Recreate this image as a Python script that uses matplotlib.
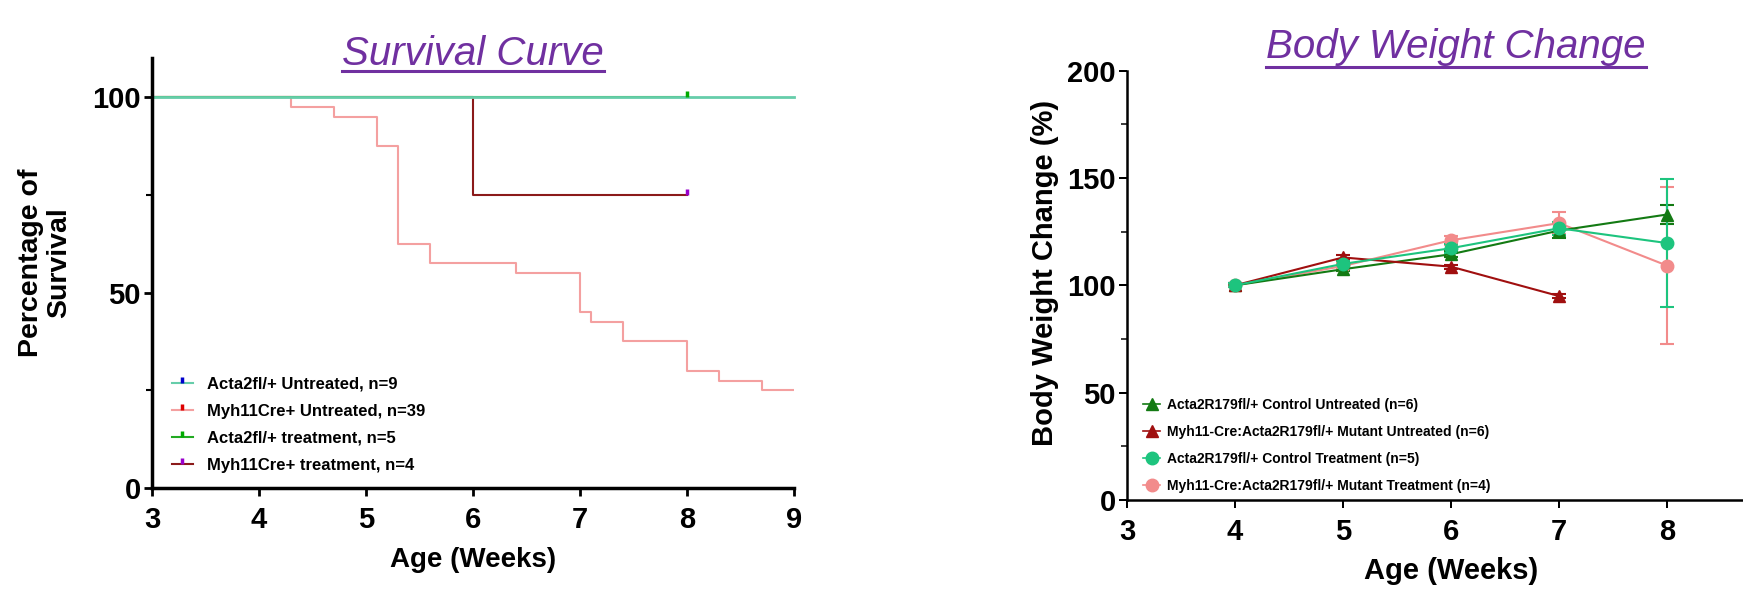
import numpy as np
import matplotlib
matplotlib.use('Agg')
import matplotlib.pyplot as plt
from matplotlib.lines import Line2D
from matplotlib.path import Path

plt.rcParams['font.family'] = ['Liberation Sans', 'DejaVu Sans']
plt.rcParams['font.weight'] = 'bold'

# ---- survival data (percent surviving, step changes) ----
weeks_ctrl_unt = [3, 9]
surv_ctrl_unt = [100, 100]
weeks_mut_unt = [3, 4.3, 4.7, 5.1, 5.3, 5.6, 6.4, 7.0, 7.1, 7.4, 8.0, 8.3, 8.7, 9]
surv_mut_unt = [100, 97.5, 95, 87.5, 62.5, 57.5, 55, 45, 42.5, 37.5, 30, 27.5, 25, 25]
weeks_ctrl_trt = [3, 8]
surv_ctrl_trt = [100, 100]
weeks_mut_trt = [3, 6, 8]
surv_mut_trt = [100, 75, 75]
censor_ctrl_trt = (8, 100)
censor_mut_trt = (8, 75)

surv_labels = ['Acta2fl/+ Untreated, n=9', 'Myh11Cre+ Untreated, n=39',
               'Acta2fl/+ treatment, n=5', 'Myh11Cre+ treatment, n=4']

# ---- body weight data (% of week 4) ----
bw_weeks = [4, 5, 6, 7, 8]
bw_ctrl_unt = [100, 107.5, 114.5, 125.5, 133]
bw_ctrl_unt_err = [1, 1, 1.5, 3.5, 4.5]
bw_mut_unt_weeks = [4, 5, 6, 7]
bw_mut_unt = [100, 113, 108.7, 95]
bw_mut_unt_err = [0.5, 1, 1, 1]
bw_ctrl_trt = [100, 110, 117.3, 126.6, 119.7]
bw_ctrl_trt_err = [1, 1.5, 2, 3, 30]
bw_mut_trt = [100, 109, 121, 129, 109.2]
bw_mut_trt_err = [1, 1.5, 2, 5, 36.6]

bw_labels = ['Acta2R179fl/+ Control Untreated (n=6)',
             'Myh11-Cre:Acta2R179fl/+ Mutant Untreated (n=6)',
             'Acta2R179fl/+ Control Treatment (n=5)',
             'Myh11-Cre:Acta2R179fl/+ Mutant Treatment (n=4)']

W, H = 1743, 589
purple = '#7030A0'

fig = plt.figure(figsize=(W / 100, H / 100), dpi=100)
ax1 = fig.add_axes([152 / W, 1 - 488 / H, 642 / W, 430 / H])
ax2 = fig.add_axes([1127 / W, 1 - 500 / H, 648 / W, 429.3 / H])

tick = Path([(0, 0), (0, 1)], [Path.MOVETO, Path.LINETO])

# survival curve
c_teal, c_pink, c_green, c_dred = '#66CDAA', '#F4A0A0', '#22AA22', '#8B1A1A'
ax1.step(weeks_mut_unt, surv_mut_unt, where='post', color=c_pink, lw=1.5)
ax1.step(weeks_mut_trt, surv_mut_trt, where='post', color=c_dred, lw=1.5)
ax1.step(weeks_ctrl_trt, surv_ctrl_trt, where='post', color=c_green, lw=1.5)
ax1.step(weeks_ctrl_unt, surv_ctrl_unt, where='post', color=c_teal, lw=2, clip_on=False)
ax1.plot(*censor_ctrl_trt, marker=tick, ms=9, mew=2.5, mec='#00AA00', ls='none', clip_on=False)
ax1.plot(*censor_mut_trt, marker=tick, ms=9, mew=2.5, mec='#9900CC', ls='none', clip_on=False)

h1 = []
for lc, mc in zip([c_teal, c_pink, c_green, c_dred], ['#0000CC', '#DD0000', '#00AA00', '#9900CC']):
    h1.append(Line2D([], [], color=lc, lw=1.5, marker=tick, ms=9, mew=2.5, mec=mc))
ax1.legend(h1, surv_labels, loc='lower left', bbox_to_anchor=(0.031, 0.036), frameon=False,
           fontsize=12, handlelength=1.25, handletextpad=0.85, labelspacing=0.72,
           borderpad=0, borderaxespad=0, numpoints=1)

ax1.set_xlim(3, 9)
ax1.set_ylim(0, 110)
ax1.set_xticks(range(3, 10))
ax1.set_yticks([0, 50, 100])
ax1.set_yticks([25, 75], minor=True)

# body weight
c_dg, c_dr, c_tq, c_pk = '#137A13', '#A00F0F', '#1DC47E', '#F28B8B'
ax2.errorbar(bw_weeks, bw_mut_trt, yerr=bw_mut_trt_err, color=c_pk, marker='o', ms=9,
             lw=1.5, capsize=5, elinewidth=1.5, capthick=1.5)
ax2.errorbar(bw_weeks, bw_ctrl_unt, yerr=bw_ctrl_unt_err, color=c_dg, marker='^', ms=9,
             lw=1.5, capsize=5, elinewidth=1.5, capthick=1.5)
ax2.errorbar(bw_mut_unt_weeks, bw_mut_unt, yerr=bw_mut_unt_err, color=c_dr, marker='^', ms=9,
             lw=1.5, capsize=5, elinewidth=1.5, capthick=1.5)
ax2.errorbar(bw_weeks, bw_ctrl_trt, yerr=bw_ctrl_trt_err, color=c_tq, marker='o', ms=9,
             lw=1.5, capsize=5, elinewidth=1.5, capthick=1.5)

h2 = [Line2D([], [], color=c, marker=m, ms=9, lw=1.2)
      for c, m in zip([c_dg, c_dr, c_tq, c_pk], ['^', '^', 'o', 'o'])]
ax2.legend(h2, bw_labels, loc='lower left', bbox_to_anchor=(0.025, 0.016), frameon=False,
           fontsize=10, handlelength=1.2, handletextpad=0.5, labelspacing=0.95,
           borderpad=0, borderaxespad=0, numpoints=1)

ax2.set_xlim(3, 9)
ax2.set_ylim(0, 200)
ax2.set_xticks(range(3, 9))
ax2.set_yticks([0, 50, 100, 150, 200])
ax2.set_yticks([25, 75, 125, 175], minor=True)

for ax, lw in [(ax1, 2.5), (ax2, 1.8)]:
    ax.spines['top'].set_visible(False)
    ax.spines['right'].set_visible(False)
    ax.spines['left'].set_linewidth(lw)
    ax.spines['bottom'].set_linewidth(lw)
    ax.tick_params(which='major', labelsize=21, width=lw * 0.8, length=6)
    ax.tick_params(which='minor', width=lw * 0.6, length=4)
    ax.tick_params(axis='x', pad=7)
    ax.tick_params(axis='y', pad=2)

# axis labels
fig.text(45 / W, 1 - 263 / H, 'Percentage of\nSurvival', rotation=90, ha='center',
         va='center', fontsize=20.5, linespacing=1.07)
fig.text(473 / W, 1 - 560 / H, 'Age (Weeks)', ha='center', va='center', fontsize=20)
fig.text(1045 / W, 1 - 273 / H, 'Body Weight Change (%)', rotation=90, ha='center',
         va='center', fontsize=21)
fig.text(1451 / W, 1 - 571 / H, 'Age (Weeks)', ha='center', va='center', fontsize=21)

# underlined titles
t1 = fig.text(473 / W, 1 - 65 / H, 'Survival Curve', ha='center', va='baseline',
              fontsize=29, style='italic', weight='normal', color=purple)
t2 = fig.text(1456 / W, 1 - 58 / H, 'Body Weight Change', ha='center', va='baseline',
              fontsize=29, style='italic', weight='normal', color=purple)
fig.canvas.draw()
r = fig.canvas.get_renderer()
for t, uy in [(t1, 71), (t2, 67)]:
    bb = t.get_window_extent(r)
    fig.add_artist(Line2D([bb.x0 / W, bb.x1 / W], [1 - uy / H, 1 - uy / H],
                          transform=fig.transFigure, color=purple, lw=2.2))

fig.savefig('out.png', dpi=100)
